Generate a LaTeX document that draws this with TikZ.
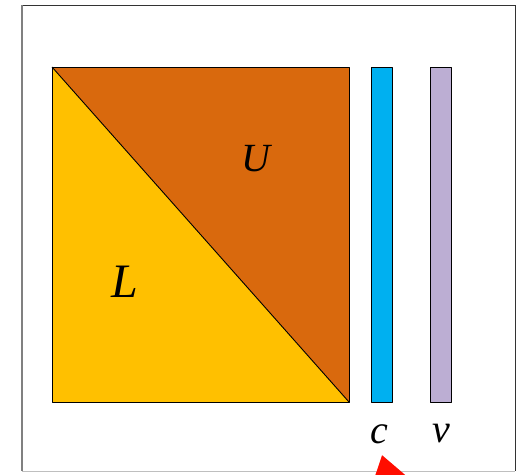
\documentclass[tikz,border=0pt]{standalone}
\usepackage{fontspec}
\setmainfont{Liberation Serif}
\usepackage{xcolor}
\usetikzlibrary{arrows.meta}
\definecolor{upperO}{HTML}{D9690D}
\definecolor{lowerY}{HTML}{FFC000}
\definecolor{barB}{HTML}{00B0F0}
\definecolor{barP}{HTML}{BCAED3}
\tikzset{
  part/.style  = {draw=black, line width=0.9pt, line join=round},
  lbl/.style   = {font=\fontsize{40}{40}\selectfont\itshape, inner sep=0pt},
  pointer/.style = {draw=red!90!orange, line width=6pt, -{Triangle[length=34pt, width=44pt]}},
}

\begin{document}
\begin{tikzpicture}[x=1pt, y=-1pt]

    \clip (0,0) rectangle (519,474);
    \useasboundingbox (0,0) rectangle (519,474);
    \fill[white] (0,0) rectangle (519,474);

    %% ===================== FRAME =====================
    \draw[black!80, line width=1pt] (22,5) -- (515,5) -- (515,471);
    \draw[gray, line width=1.5pt] (22,5) -- (22,471);
    \draw[gray!50, line width=1pt] (22,471) -- (515,471);

    %% ===================== MATRIX =====================
    \fill[lowerY]  (52,67) -- (349,402) -- (52,402) -- cycle;
    \fill[upperO]  (52,67) -- (349,67) -- (349,402) -- cycle;
    \draw[part] (52,67) rectangle (349,402);
    \draw[part] (52,67) -- (349,402);

    \node[lbl] (U) at (256,159) {U};
    \node[lbl, font=\fontsize{48}{48}\selectfont\itshape] (L) at (125,282) {L};

    %% ===================== VECTORS =====================
    \draw[part, fill=barB] (371,67) rectangle (392,402);
    \draw[part, fill=barP] (430,67) rectangle (451,402);

    \node[lbl] (c) at (379,434) {c};
    \node[lbl] (v) at (441,434) {v};

    %% pointer from below
    \coordinate (tail) at (400,520);
    \coordinate (tip)  at (382,455);
    \draw[pointer] (tail) -- (tip);

\end{tikzpicture}
\end{document}
